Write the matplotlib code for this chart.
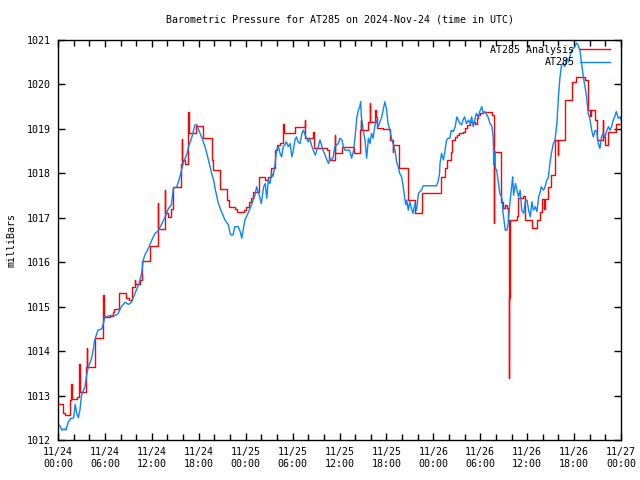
import pandas as pd
import matplotlib
matplotlib.use("Agg")
import matplotlib.pyplot as plt
import matplotlib.dates as mdates

plt.rcParams['font.family'] = ['DejaVu Sans Mono']
plt.rcParams['font.size'] = 7.2

start = pd.Timestamp("2024-11-24 00:00")

# station observations (hours after start, mbar)
obs_hours = [0.0, 0.3, 0.5, 0.8, 1.0, 1.3, 1.6, 2.0, 2.2, 2.4, 2.6, 2.8, 3.0, 3.45, 3.7, 3.9,
             4.3, 4.5, 4.7, 5.1, 5.6, 5.8, 6.0, 6.65, 7.3, 7.7, 8.1, 8.6, 9.0, 9.4, 9.85,
             10.3, 10.7, 10.9, 11.1, 11.55, 12.0, 12.4, 12.8, 13.3, 13.7, 14.1, 14.5, 14.75,
             15.2, 15.6, 16.0, 16.5, 16.7, 17.1, 17.5, 17.75, 18.0, 18.4, 18.8, 19.2, 19.65,
             19.9, 20.1, 20.5, 20.9, 21.35, 21.8, 22.0, 22.2, 22.4, 22.6, 23.06, 23.3, 23.5,
             23.9, 24.3, 24.8, 25.2, 25.4, 25.8, 26.0, 26.3, 26.5, 26.7, 26.9, 27.1, 27.3,
             27.5, 27.75, 27.95, 28.2, 28.4, 28.6, 28.8, 29.0, 29.2, 29.45, 29.7, 29.9, 30.1,
             30.3, 30.5, 30.7, 30.95, 31.2, 31.4, 31.6, 31.8, 32.0, 32.2, 32.4, 32.65, 32.9,
             33.1, 33.3, 33.5, 33.7, 33.9, 34.4, 34.6, 34.8, 35.0, 35.2, 35.4, 35.85, 36.05,
             36.3, 36.5, 36.7, 36.9, 37.3, 37.55, 37.8, 38.0, 38.2, 38.4, 38.6, 38.7, 38.8,
             39.04, 39.26, 39.47, 39.7, 39.9, 40.1, 40.3, 40.5, 40.75, 40.96, 41.4, 41.8,
             42.0, 42.2, 42.45, 42.7, 42.9, 43.1, 43.3, 43.5, 43.7, 43.94, 44.15, 44.37,
             44.5, 44.6, 44.8, 45.0, 45.2, 45.4, 45.65, 45.85, 46.1, 46.3, 46.5, 46.7, 48.4,
             48.6, 48.8, 48.85, 49.05, 49.3, 49.5, 49.7, 49.9, 50.1, 50.3, 50.55, 50.8, 51.0,
             51.2, 51.4, 51.6, 51.8, 52.0, 52.25, 52.5, 52.7, 52.9, 53.1, 53.3, 53.5, 53.7,
             54.0, 54.2, 54.4, 54.6, 55.0, 55.25, 55.5, 55.65, 55.75, 55.85, 55.95, 56.1,
             56.35, 56.5, 56.78, 56.9, 57.08, 57.2, 57.4, 57.55, 57.63, 57.85, 58.06, 58.14,
             58.27, 58.5, 58.7, 58.9, 59.1, 59.3, 59.55, 59.76, 59.97, 60.19, 60.4, 60.6,
             60.8, 61.04, 61.25, 61.47, 61.68, 61.8, 62.1, 62.3, 62.5, 62.7, 62.9, 63.1,
             63.35, 63.56, 63.8, 64.0, 64.2, 64.4, 64.6, 64.8, 65.05, 65.3, 65.5, 65.7, 65.9,
             66.1, 66.3, 66.5, 66.75, 66.97, 67.2, 67.4, 67.6, 67.8, 68.0, 68.25, 68.46, 68.7,
             68.9, 69.1, 69.3, 69.5, 69.7, 69.95, 70.2, 70.4, 70.6, 70.8, 71.0, 71.2, 71.4,
             71.65, 71.9, 72.0]
obs_mbar = [1012.37, 1012.3, 1012.22, 1012.25, 1012.22, 1012.4, 1012.48, 1012.5, 1012.8, 1012.6,
            1012.5, 1012.67, 1013.0, 1013.2, 1013.5, 1013.65, 1013.84, 1014.03, 1014.25, 1014.47,
            1014.5, 1014.62, 1014.77, 1014.8, 1014.8, 1014.85, 1015.0, 1015.1, 1015.05, 1015.1,
            1015.3, 1015.49, 1015.75, 1016.05, 1016.16, 1016.31, 1016.5, 1016.65, 1016.7,
            1016.87, 1017.02, 1017.2, 1017.29, 1017.66, 1017.7, 1017.93, 1018.22, 1018.44,
            1018.6, 1018.8, 1019.08, 1019.1, 1018.97, 1018.8, 1018.6, 1018.33, 1018.0, 1017.85,
            1017.65, 1017.33, 1017.14, 1016.95, 1016.84, 1016.65, 1016.61, 1016.62, 1016.8,
            1016.8, 1016.69, 1016.54, 1016.95, 1017.1, 1017.32, 1017.51, 1017.7, 1017.47,
            1017.32, 1017.7, 1017.77, 1017.44, 1017.85, 1017.77, 1018.0, 1017.93, 1018.19,
            1018.52, 1018.6, 1018.45, 1018.37, 1018.6, 1018.64, 1018.71, 1018.6, 1018.67,
            1018.37, 1018.52, 1018.75, 1018.82, 1018.71, 1018.67, 1018.9, 1018.97, 1018.86,
            1018.79, 1018.71, 1018.79, 1018.64, 1018.52, 1018.41, 1018.52, 1018.6, 1018.75,
            1018.64, 1018.52, 1018.3, 1018.22, 1018.34, 1018.3, 1018.37, 1018.6, 1018.67,
            1018.79, 1018.75, 1018.6, 1018.52, 1018.52, 1018.52, 1018.34, 1018.52, 1018.83,
            1019.24, 1019.42, 1019.5, 1019.61, 1019.27, 1018.97, 1018.75, 1018.34, 1018.79,
            1018.67, 1018.9, 1018.79, 1019.05, 1019.2, 1019.05, 1019.27, 1019.61, 1019.46,
            1019.12, 1018.97, 1018.75, 1018.64, 1018.52, 1018.26, 1018.15, 1018.0, 1017.92,
            1017.7, 1017.4, 1017.29, 1017.4, 1017.17, 1017.36, 1017.21, 1017.1, 1017.32,
            1017.17, 1017.55, 1017.59, 1017.62, 1017.72, 1017.72, 1017.81, 1018.0, 1018.22,
            1018.45, 1018.3, 1018.52, 1018.75, 1018.79, 1018.79, 1018.97, 1018.94, 1019.05,
            1019.27, 1019.2, 1019.12, 1019.09, 1019.2, 1019.27, 1019.12, 1019.2, 1019.12,
            1019.27, 1019.05, 1019.2, 1019.35, 1019.27, 1019.42, 1019.5, 1019.35, 1019.39,
            1019.27, 1019.12, 1019.05, 1018.8, 1018.2, 1018.5, 1018.1, 1018.08, 1017.74,
            1017.55, 1017.44, 1017.14, 1016.88, 1016.72, 1016.72, 1016.84, 1017.02, 1017.44,
            1017.77, 1017.92, 1017.51, 1017.77, 1017.62, 1017.47, 1017.62, 1017.17, 1017.1,
            1017.36, 1017.4, 1017.17, 1017.02, 1017.36, 1017.17, 1017.25, 1017.14, 1017.47,
            1017.59, 1017.7, 1017.62, 1017.7, 1017.85, 1017.89, 1018.22, 1018.45, 1018.67,
            1018.75, 1019.12, 1019.72, 1020.17, 1020.44, 1020.47, 1020.4, 1020.59, 1020.51,
            1020.66, 1020.77, 1020.81, 1020.85, 1020.93, 1020.89, 1020.77, 1020.47, 1020.14,
            1019.95, 1019.72, 1019.35, 1019.24, 1018.97, 1018.82, 1018.97, 1018.94, 1018.67,
            1018.56, 1018.82, 1018.9, 1018.82, 1018.97, 1019.05, 1018.97, 1019.05, 1019.2,
            1019.27, 1019.39, 1019.24, 1019.27, 1019.2]

# analysis values, held until the next change
ana_hours = [0.0, 0.65, 0.85, 1.55, 1.7, 1.75, 2.45, 2.7, 2.75, 2.85, 3.55, 3.7, 3.75, 4.7,
             5.7, 5.8, 5.85, 6.6, 7.0, 7.1, 7.75, 8.65, 9.1, 9.5, 9.85, 9.9, 10.5, 10.8,
             11.75, 12.75, 12.8, 13.65, 13.7, 14.1, 14.5, 14.75, 15.75, 15.8, 15.85, 16.2,
             16.65, 16.7, 17.7, 18.6, 19.65, 19.85, 20.75, 21.6, 21.9, 22.6, 22.95, 23.8,
             24.1, 24.4, 24.7, 25.0, 25.75, 26.45, 26.8, 27.2, 27.8, 28.0, 28.4, 28.8, 28.85,
             30.3, 31.55, 31.6, 32.65, 32.7, 34.4, 34.6, 35.4, 35.45, 36.35, 37.8, 38.6,
             38.7, 38.8, 39.7, 39.9, 39.95, 40.5, 40.7, 40.8, 41.6, 42.4, 42.8, 42.85, 43.6,
             44.7, 44.8, 45.7, 46.6, 48.97, 49.5, 49.7, 50.3, 50.35, 50.8, 51.0, 51.3, 51.85,
             52.05, 52.25, 52.7, 53.3, 53.55, 53.75, 54.0, 54.4, 55.45, 55.7, 55.75, 55.8,
             56.7, 56.95, 57.2, 57.4, 57.6, 57.7, 57.73, 57.76, 58.7, 58.8, 59.5, 59.75,
             60.6, 61.3, 61.6, 61.85, 62.1, 62.3, 62.7, 63.1, 63.5, 63.6, 63.9, 63.95, 64.8,
             65.7, 66.3, 67.45, 67.8, 68.0, 68.1, 68.7, 68.9, 69.7, 69.75, 69.95, 70.4,
             71.4, 72.0]
ana_mbar = [1012.8, 1012.6, 1012.56, 1012.9, 1013.27, 1012.93, 1012.97, 1013.72, 1013.28,
            1013.08, 1013.65, 1014.06, 1013.65, 1014.3, 1014.77, 1015.26, 1014.77, 1014.8,
            1014.87, 1014.94, 1015.3, 1015.2, 1015.15, 1015.45, 1015.6, 1015.52, 1015.6,
            1016.03, 1016.37, 1017.33, 1016.75, 1017.62, 1017.1, 1017.02, 1017.2, 1017.7,
            1018.22, 1018.77, 1018.3, 1018.22, 1019.39, 1018.9, 1019.07, 1018.79, 1018.3,
            1018.07, 1017.64, 1017.4, 1017.25, 1017.2, 1017.14, 1017.17, 1017.25, 1017.35,
            1017.45, 1017.59, 1017.92, 1017.85, 1017.92, 1018.13, 1018.52, 1018.64, 1018.69,
            1019.11, 1018.9, 1019.05, 1019.2, 1018.79, 1018.94, 1018.56, 1018.52, 1018.3,
            1018.86, 1018.45, 1018.6, 1018.45, 1018.97, 1019.2, 1018.97, 1019.16, 1019.58,
            1019.16, 1019.42, 1019.27, 1019.01, 1018.99, 1018.75, 1018.49, 1018.64, 1018.11,
            1017.59, 1017.41, 1017.1, 1017.55, 1017.92, 1018.11, 1018.3, 1018.49, 1018.75,
            1018.82, 1018.86, 1018.9, 1018.94, 1019.01, 1019.09, 1019.16, 1019.12, 1019.24,
            1019.31, 1019.35, 1019.39, 1019.31, 1019.12, 1016.89, 1018.49, 1017.36, 1017.21,
            1017.28, 1017.21, 1016.96, 1013.4, 1015.19, 1016.96, 1017.05, 1017.44, 1017.48,
            1016.95, 1016.76, 1016.96, 1017.14, 1017.43, 1017.2, 1017.43, 1017.7, 1017.96,
            1018.41, 1018.75, 1018.41, 1018.75, 1019.65, 1020.06, 1020.16, 1020.1, 1019.43,
            1019.3, 1019.43, 1019.2, 1018.75, 1019.2, 1018.82, 1018.64, 1018.94, 1019.1,
            1019.1]

obs_time = start + pd.to_timedelta(obs_hours, unit="h")
ana_time = start + pd.to_timedelta(ana_hours, unit="h")

fig = plt.figure(figsize=(6.4, 4.8), dpi=100)
ax = fig.add_axes([58 / 640, 1 - 440 / 480, 563 / 640, 400 / 480])

ax.plot(ana_time, ana_mbar, drawstyle="steps-post", color="#ff0000", lw=1.0,
        label="AT285 Analysis")
ax.plot(obs_time, obs_mbar, color="#0a84ff", lw=1.0, label="AT285")

ax.set_xlim(start, start + pd.Timedelta(hours=72))
ax.set_ylim(1012, 1021)
ax.set_yticks(range(1012, 1022))

ax.xaxis.set_major_locator(mdates.HourLocator(byhour=range(0, 24, 6)))
ax.xaxis.set_minor_locator(mdates.HourLocator(byhour=range(0, 24, 2)))
ax.xaxis.set_major_formatter(mdates.DateFormatter("%m/%d\n%H:%M"))

ax.tick_params(which="both", direction="in", top=True, right=True, width=1)
ax.tick_params(which="major", length=5, pad=5)
ax.tick_params(which="minor", length=4)
for sp in ax.spines.values():
    sp.set_linewidth(1)

leg = ax.legend(loc="upper right", frameon=False, markerfirst=False,
                handlelength=3, handletextpad=0.6, labelspacing=0.25,
                borderaxespad=0.3, borderpad=0.2, bbox_to_anchor=(0.99, 1.0))

fig.text(339.5 / 640, 1 - 20 / 480, "Barometric Pressure for AT285 on 2024-Nov-24 (time in UTC)",
         ha="center", va="center")
fig.text(12 / 640, 0.5, "milliBars", rotation=90, ha="center", va="center")

fig.canvas.draw()
for t in ax.get_xticklabels():
    t.set_linespacing(1.3)

fig.savefig("out.png", dpi=100)
